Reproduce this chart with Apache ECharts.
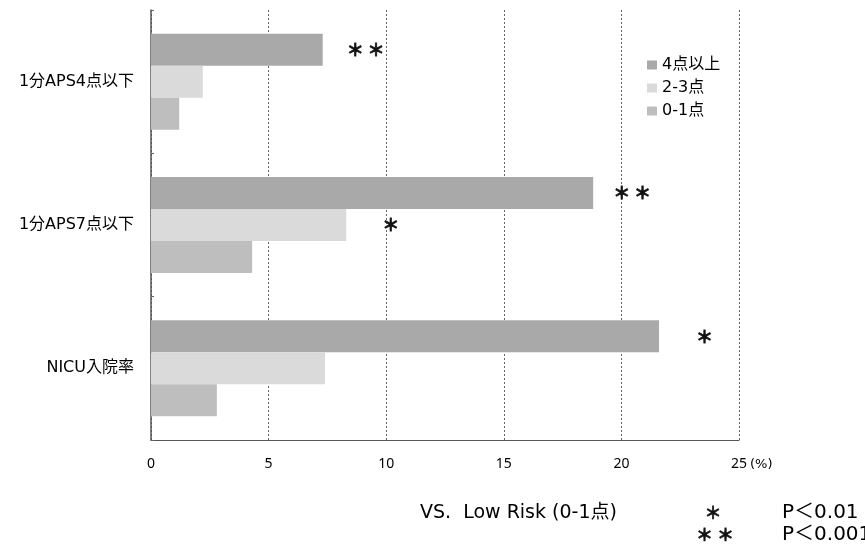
<!DOCTYPE html>
<html lang="ja">
<head>
    <meta charset="UTF-8">
    <title>chart</title>
    <script src="https://cdn.jsdelivr.net/npm/echarts@6/dist/echarts.min.js"></script>
    <style>
        html, body { margin: 0; padding: 0; background: #fff; }
    </style>
</head>
<body>
    <div id="main" style="width: 865px;height:548px;"></div>
<script>
    // カテゴリ（上から順）
    var categories = ['1分APS4点以下', '1分APS7点以下', 'NICU入院率'];
    var seriesNames = ['4点以上', '2-3点', '0-1点'];
    // 値 (%)
    var high = [7.3, 18.8, 21.6];
    var mid = [2.2, 8.3, 7.4];
    var low = [1.2, 4.3, 2.8];
    // 有意差マーク
    var highSig = ['＊ ＊', '＊ ＊', '＊'];
    var midSig = ['', '＊', ''];
    var xTicks = [0, 5, 10, 15, 20, 25];

    var font = '"DejaVu Sans", "Noto Sans CJK JP", sans-serif';
    var cjk = '"Noto Sans CJK JP", sans-serif';

    function makeData(values, marks, dists) {
        var out = [];
        for (var i = 0; i < values.length; i++) {
            var item = {value: values[i]};
            if (marks[i]) {
                item.label = {
                    show: true,
                    position: 'right',
                    distance: dists[i],
                    formatter: marks[i],
                    color: '#111',
                    fontSize: 17,
                    fontWeight: 'bold',
                    fontFamily: cjk,
                    textBorderColor: '#222',
                    textBorderWidth: 0.8
                };
            }
            out.push(item);
        }
        return out;
    }

    // 下部の凡例用アスタリスク
    function starText(x, y, s) {
        return {
            type: 'text', x: x, y: y,
            style: {
                text: s, fontSize: 17, fontWeight: 'bold', fill: '#111', fontFamily: cjk,
                stroke: '#222', lineWidth: 0.6, align: 'center', verticalAlign: 'middle'
            }
        };
    }

    var myChart = echarts.init(document.getElementById('main'));
    var option = {
        animation: false,
        backgroundColor: '#fff',
        grid: {left: 151, right: 126, top: 10, bottom: 108},
        legend: {
            orient: 'vertical',
            left: 642,
            top: 52,
            itemWidth: 10,
            itemHeight: 9,
            itemGap: 7,
            icon: 'rect',
            data: seriesNames,
            textStyle: {fontSize: 16, color: '#000', fontFamily: font}
        },
        xAxis: {
            type: 'value',
            min: 0,
            max: 25,
            interval: 5,
            axisLine: {show: true, lineStyle: {color: '#555', width: 1}},
            axisTick: {show: false},
            axisLabel: {
                color: '#000', fontSize: 14, margin: 17, fontFamily: '"Noto Sans", sans-serif',
                formatter: function (v) { return xTicks.indexOf(v) >= 0 ? String(v) : ''; }
            },
            splitLine: {show: true, lineStyle: {color: '#666', type: [2, 2], width: 1}}
        },
        yAxis: {
            type: 'category',
            inverse: true,
            data: categories,
            axisLine: {show: true, lineStyle: {color: '#555', width: 1.5}},
            axisTick: {show: true, inside: true, length: 3, lineStyle: {color: '#666'}},
            axisLabel: {color: '#000', fontSize: 16, margin: 17, fontFamily: font},
            splitLine: {show: false}
        },
        series: [
            {
                name: seriesNames[0], type: 'bar', barGap: '0%', barCategoryGap: '33%',
                itemStyle: {color: '#a9a9a9'},
                data: makeData(high, highSig, [24, 20, 37])
            },
            {
                name: seriesNames[1], type: 'bar', barGap: '0%', barCategoryGap: '33%',
                itemStyle: {color: '#dadada'},
                data: makeData(mid, midSig, [36, 36, 36])
            },
            {
                name: seriesNames[2], type: 'bar', barGap: '0%', barCategoryGap: '33%',
                itemStyle: {color: '#bebebe'},
                data: makeData(low, ['', '', ''], [0, 0, 0])
            }
        ],
        graphic: [
            {type: 'text', x: 750, y: 465, style: {text: '(%)', fontSize: 13, fill: '#000', fontFamily: font, verticalAlign: 'middle'}},
            {type: 'text', x: 420, y: 513, style: {text: 'VS.  Low Risk (0-1点)', fontSize: 19, fill: '#000', fontFamily: font, verticalAlign: 'middle'}},
            starText(713, 513, '＊'),
            {type: 'text', x: 782, y: 513, style: {text: 'P＜0.01', fontSize: 20, fill: '#000', fontFamily: font, verticalAlign: 'middle'}},
            starText(715, 535, '＊ ＊'),
            {type: 'text', x: 782, y: 535, style: {text: 'P＜0.001', fontSize: 20, fill: '#000', fontFamily: font, verticalAlign: 'middle'}}
        ]
    };
    myChart.setOption(option);
</script>
</body>
</html>
